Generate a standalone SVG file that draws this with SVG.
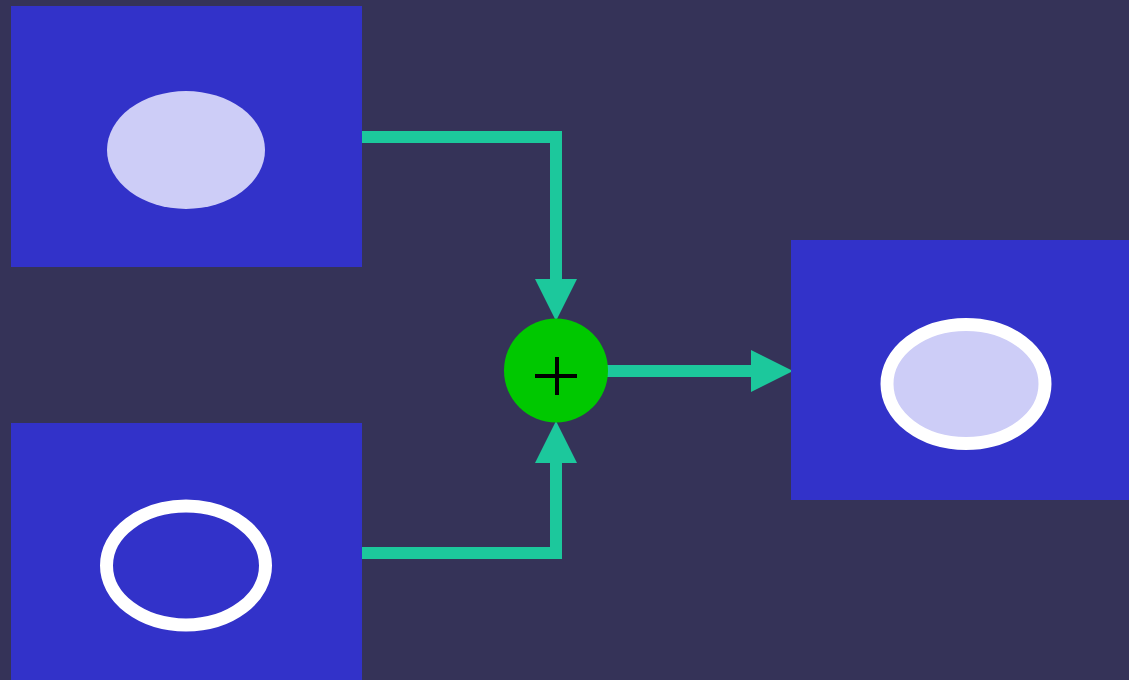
<svg xmlns="http://www.w3.org/2000/svg" width="1129" height="680" viewBox="0 0 1129 680">
<style>
.box{fill:#3232c9}
.conn{fill:none;stroke:#1cc89c;stroke-width:12}
.wht{stroke:#ffffff;stroke-width:13}
</style>
<defs>
<marker id="arr" markerUnits="userSpaceOnUse" markerWidth="42" markerHeight="42" refX="0" refY="20" orient="auto" viewBox="0 0 40 40" overflow="visible">
<path d="M0,0 L40,20 L0,40 Z" fill="#1cc89c"/>
</marker>
</defs>
<rect width="1129" height="680" fill="#353358"/>
<g id="connectors">
<path class="conn" d="M362,137 H556 V279" marker-end="url(#arr)"/>
<path class="conn" d="M362,553 H556 V463" marker-end="url(#arr)"/>
<path class="conn" d="M606,371 H751" marker-end="url(#arr)"/>
</g>
<g id="input-filled">
<rect class="box" x="11" y="6" width="351" height="261"/>
<ellipse cx="186" cy="150" rx="79" ry="59" fill="#cdcdf7"/>
</g>
<g id="input-outline">
<rect class="box" x="11" y="423" width="351" height="257"/>
<ellipse class="wht" cx="186" cy="565.5" rx="79.5" ry="59.5" fill="none"/>
</g>
<g id="sum">
<circle cx="556" cy="370.5" r="52" fill="#00c800"/>
<path d="M535,376 H577 M557,357 V395" stroke="#000" stroke-width="4" fill="none"/>
</g>
<g id="output">
<rect class="box" x="791" y="240" width="338" height="260"/>
<ellipse class="wht" cx="966" cy="384" rx="79" ry="59.5" fill="#cdcdf7"/>
</g>
</svg>
